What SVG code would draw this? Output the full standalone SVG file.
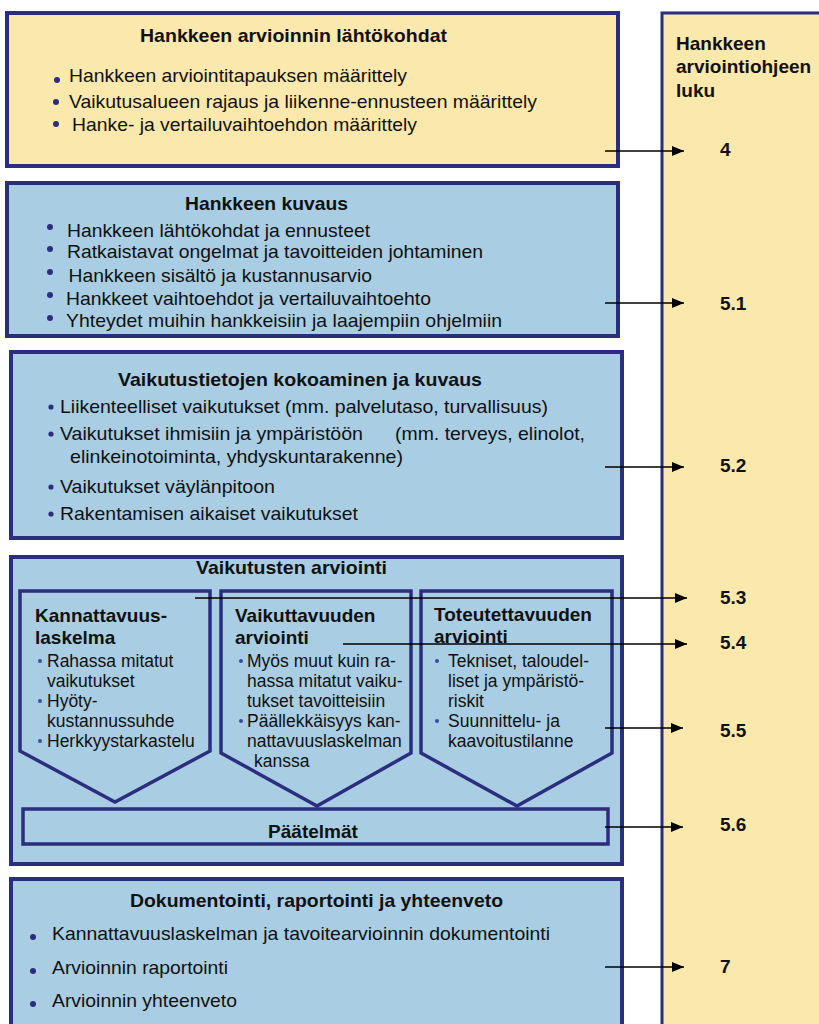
<svg xmlns="http://www.w3.org/2000/svg" width="819" height="1024" viewBox="0 0 819 1024">
  <defs>
    <marker id="arrowhead" viewBox="0 0 12 10" refX="12" refY="5" markerWidth="12" markerHeight="10" markerUnits="userSpaceOnUse" orient="auto">
      <path d="M0,0 L12,5 L0,10 Z" fill="#000"/>
    </marker>
    <style>
      .yellow { fill: #FBE8AC; stroke: #2B2D7E; stroke-width: 4; }
      .blue { fill: #A9CDE2; stroke: #2B2D7E; stroke-width: 4; }
      .pent { fill: #A9CDE2; stroke: #2B2D7E; stroke-width: 3.5; stroke-linejoin: miter; }
      .column { fill: #FBE8AC; stroke: #2B2D7E; stroke-width: 3; }
      text { font-family: "Liberation Sans", Arial, sans-serif; fill: #111; }
      .title { font-size: 19px; font-weight: bold; }
      .item { font-size: 19px; }
      .item3 { font-size: 18.5px; }
      .sub { font-size: 17.5px; }
      .num { font-size: 19px; font-weight: bold; }
      .dot { fill: #2B2D7E; }
      .sdot { fill: #3A4C9C; }
      .conn { stroke: #000; stroke-width: 1.5; fill: none; marker-end: url(#arrowhead); }
    </style>
  </defs>

  <!-- chapter column on the right -->
  <g id="chapter-column">
    <rect class="column" x="662" y="13" width="200" height="1100"/>
    <text class="num" x="676" y="50">Hankkeen</text>
    <text class="num" x="676" y="73">arviointiohjeen</text>
    <text class="num" x="676" y="97">luku</text>
    <text class="num" x="720" y="156">4</text>
    <text class="num" x="720" y="310">5.1</text>
    <text class="num" x="720" y="472">5.2</text>
    <text class="num" x="720" y="604">5.3</text>
    <text class="num" x="720" y="649">5.4</text>
    <text class="num" x="720" y="737">5.5</text>
    <text class="num" x="720" y="831">5.6</text>
    <text class="num" x="720" y="973">7</text>
  </g>

  <!-- 1: starting points -->
  <g id="lahtokohdat">
    <rect class="yellow" x="7" y="13" width="611" height="153"/>
    <text class="title" x="140" y="42" textLength="307" lengthAdjust="spacingAndGlyphs">Hankkeen arvioinnin lähtökohdat</text>
    <circle class="dot" cx="57" cy="80" r="3"/>
    <circle class="dot" cx="56" cy="102" r="3"/>
    <circle class="dot" cx="56" cy="124" r="3"/>
    <text class="item" x="69" y="82" textLength="338" lengthAdjust="spacingAndGlyphs">Hankkeen arviointitapauksen määrittely</text>
    <text class="item" x="69" y="108" textLength="468" lengthAdjust="spacingAndGlyphs">Vaikutusalueen rajaus ja liikenne-ennusteen määrittely</text>
    <text class="item" x="72" y="131" textLength="345" lengthAdjust="spacingAndGlyphs">Hanke- ja vertailuvaihtoehdon määrittely</text>
  </g>

  <!-- 2: project description -->
  <g id="kuvaus">
    <rect class="blue" x="7" y="183" width="611" height="153"/>
    <text class="title" x="185" y="210" textLength="163" lengthAdjust="spacingAndGlyphs">Hankkeen kuvaus</text>
    <circle class="dot" cx="50" cy="227" r="3"/>
    <circle class="dot" cx="50" cy="249" r="3"/>
    <circle class="dot" cx="50" cy="272" r="3"/>
    <circle class="dot" cx="50" cy="295" r="3"/>
    <circle class="dot" cx="50" cy="318" r="3"/>
    <text class="item" x="67" y="237" textLength="303" lengthAdjust="spacingAndGlyphs">Hankkeen lähtökohdat ja ennusteet</text>
    <text class="item" x="67" y="258" textLength="416" lengthAdjust="spacingAndGlyphs">Ratkaistavat ongelmat ja tavoitteiden johtaminen</text>
    <text class="item" x="68.5" y="282" textLength="303.5" lengthAdjust="spacingAndGlyphs">Hankkeen sisältö ja kustannusarvio</text>
    <text class="item" x="66" y="305" textLength="365" lengthAdjust="spacingAndGlyphs">Hankkeet vaihtoehdot ja vertailuvaihtoehto</text>
    <text class="item" x="66" y="327" textLength="436" lengthAdjust="spacingAndGlyphs">Yhteydet muihin hankkeisiin ja laajempiin ohjelmiin</text>
  </g>

  <!-- 3: impact data -->
  <g id="vaikutustiedot">
    <rect class="blue" x="11" y="352" width="611" height="186"/>
    <text class="title" x="118" y="386" textLength="364" lengthAdjust="spacingAndGlyphs">Vaikutustietojen kokoaminen ja kuvaus</text>
    <circle class="dot" cx="51" cy="407" r="2.6"/>
    <circle class="dot" cx="51" cy="434" r="2.6"/>
    <circle class="dot" cx="51" cy="487" r="2.6"/>
    <circle class="dot" cx="51" cy="514" r="2.6"/>
    <text class="item3" x="60" y="413" textLength="488" lengthAdjust="spacingAndGlyphs">Liikenteelliset vaikutukset (mm. palvelutaso, turvallisuus)</text>
    <text class="item3" x="60" y="440" textLength="303" lengthAdjust="spacingAndGlyphs">Vaikutukset ihmisiin ja ympäristöön</text>
    <text class="item3" x="395" y="440" textLength="190" lengthAdjust="spacingAndGlyphs">(mm. terveys, elinolot,</text>
    <text class="item3" x="70" y="463" textLength="333" lengthAdjust="spacingAndGlyphs">elinkeinotoiminta, yhdyskuntarakenne)</text>
    <text class="item3" x="60" y="493" textLength="215" lengthAdjust="spacingAndGlyphs">Vaikutukset väylänpitoon</text>
    <text class="item3" x="60" y="520" textLength="298" lengthAdjust="spacingAndGlyphs">Rakentamisen aikaiset vaikutukset</text>
  </g>

  <!-- 4: impact assessment -->
  <g id="arviointi">
    <rect class="blue" x="11" y="557" width="611" height="307"/>
    <text class="title" x="196" y="574" textLength="191" lengthAdjust="spacingAndGlyphs">Vaikutusten arviointi</text>
  </g>

  <g id="kannattavuus">
    <polygon class="pent" points="20,591 210,591 210,751 115,802 20,751"/>
    <text class="title" x="35" y="622">Kannattavuus-</text>
    <text class="title" x="35" y="644">laskelma</text>
    <circle class="sdot" cx="40" cy="661" r="2"/>
    <circle class="sdot" cx="40" cy="701" r="2"/>
    <circle class="sdot" cx="40" cy="741" r="2"/>
    <text class="sub" x="47" y="667">Rahassa mitatut</text>
    <text class="sub" x="47" y="687">vaikutukset</text>
    <text class="sub" x="47" y="707">Hyöty-</text>
    <text class="sub" x="47" y="727">kustannussuhde</text>
    <text class="sub" x="47" y="747">Herkkyystarkastelu</text>
  </g>

  <g id="vaikuttavuus">
    <polygon class="pent" points="221,591 411,591 411,753 317,806 221,753"/>
    <text class="title" x="235" y="622">Vaikuttavuuden</text>
    <text class="title" x="235" y="644">arviointi</text>
    <circle class="sdot" cx="241" cy="661" r="2"/>
    <circle class="sdot" cx="241" cy="721" r="2"/>
    <text class="sub" x="247" y="667">Myös muut kuin ra-</text>
    <text class="sub" x="247" y="687">hassa mitatut vaiku-</text>
    <text class="sub" x="247" y="707">tukset tavoitteisiin</text>
    <text class="sub" x="247" y="727">Päällekkäisyys kan-</text>
    <text class="sub" x="247" y="747">nattavuuslaskelman</text>
    <text class="sub" x="254" y="767">kanssa</text>
  </g>

  <g id="toteutettavuus">
    <polygon class="pent" points="421,591 612,591 612,753 517,806 421,753"/>
    <text class="title" x="434" y="621">Toteutettavuuden</text>
    <text class="title" x="434" y="643">arviointi</text>
    <circle class="sdot" cx="437" cy="661" r="2"/>
    <circle class="sdot" cx="437" cy="721" r="2"/>
    <text class="sub" x="448" y="667">Tekniset, taloudel-</text>
    <text class="sub" x="448" y="687">liset ja ympäristö-</text>
    <text class="sub" x="448" y="707">riskit</text>
    <text class="sub" x="448" y="727">Suunnittelu- ja</text>
    <text class="sub" x="448" y="747">kaavoitustilanne</text>
  </g>

  <g id="paatelmat">
    <rect class="pent" x="23" y="809" width="585" height="35"/>
    <text class="title" x="313" y="838" text-anchor="middle">Päätelmät</text>
  </g>

  <!-- 5: documentation -->
  <g id="dokumentointi">
    <rect class="blue" x="11" y="879" width="611" height="200"/>
    <text class="title" x="130" y="907" textLength="373" lengthAdjust="spacingAndGlyphs">Dokumentointi, raportointi ja yhteenveto</text>
    <circle class="dot" cx="33" cy="937" r="3"/>
    <circle class="dot" cx="33" cy="971" r="3"/>
    <circle class="dot" cx="33" cy="1004" r="3"/>
    <text class="item" x="52" y="940" textLength="498" lengthAdjust="spacingAndGlyphs">Kannattavuuslaskelman ja tavoitearvioinnin dokumentointi</text>
    <text class="item" x="52" y="974" textLength="176" lengthAdjust="spacingAndGlyphs">Arvioinnin raportointi</text>
    <text class="item" x="52" y="1007" textLength="185" lengthAdjust="spacingAndGlyphs">Arvioinnin yhteenveto</text>
  </g>

  <!-- links from each phase to its chapter -->
  <g id="connectors">
    <line class="conn" x1="605" y1="151" x2="684" y2="151"/>
    <line class="conn" x1="605" y1="303" x2="684" y2="303"/>
    <line class="conn" x1="605" y1="467" x2="684" y2="467"/>
    <line class="conn" x1="195" y1="598" x2="687" y2="598"/>
    <line class="conn" x1="343" y1="644" x2="687" y2="644"/>
    <line class="conn" x1="605" y1="728" x2="683" y2="728"/>
    <line class="conn" x1="605" y1="827" x2="683" y2="827"/>
    <line class="conn" x1="605" y1="967" x2="684" y2="967"/>
  </g>
</svg>
